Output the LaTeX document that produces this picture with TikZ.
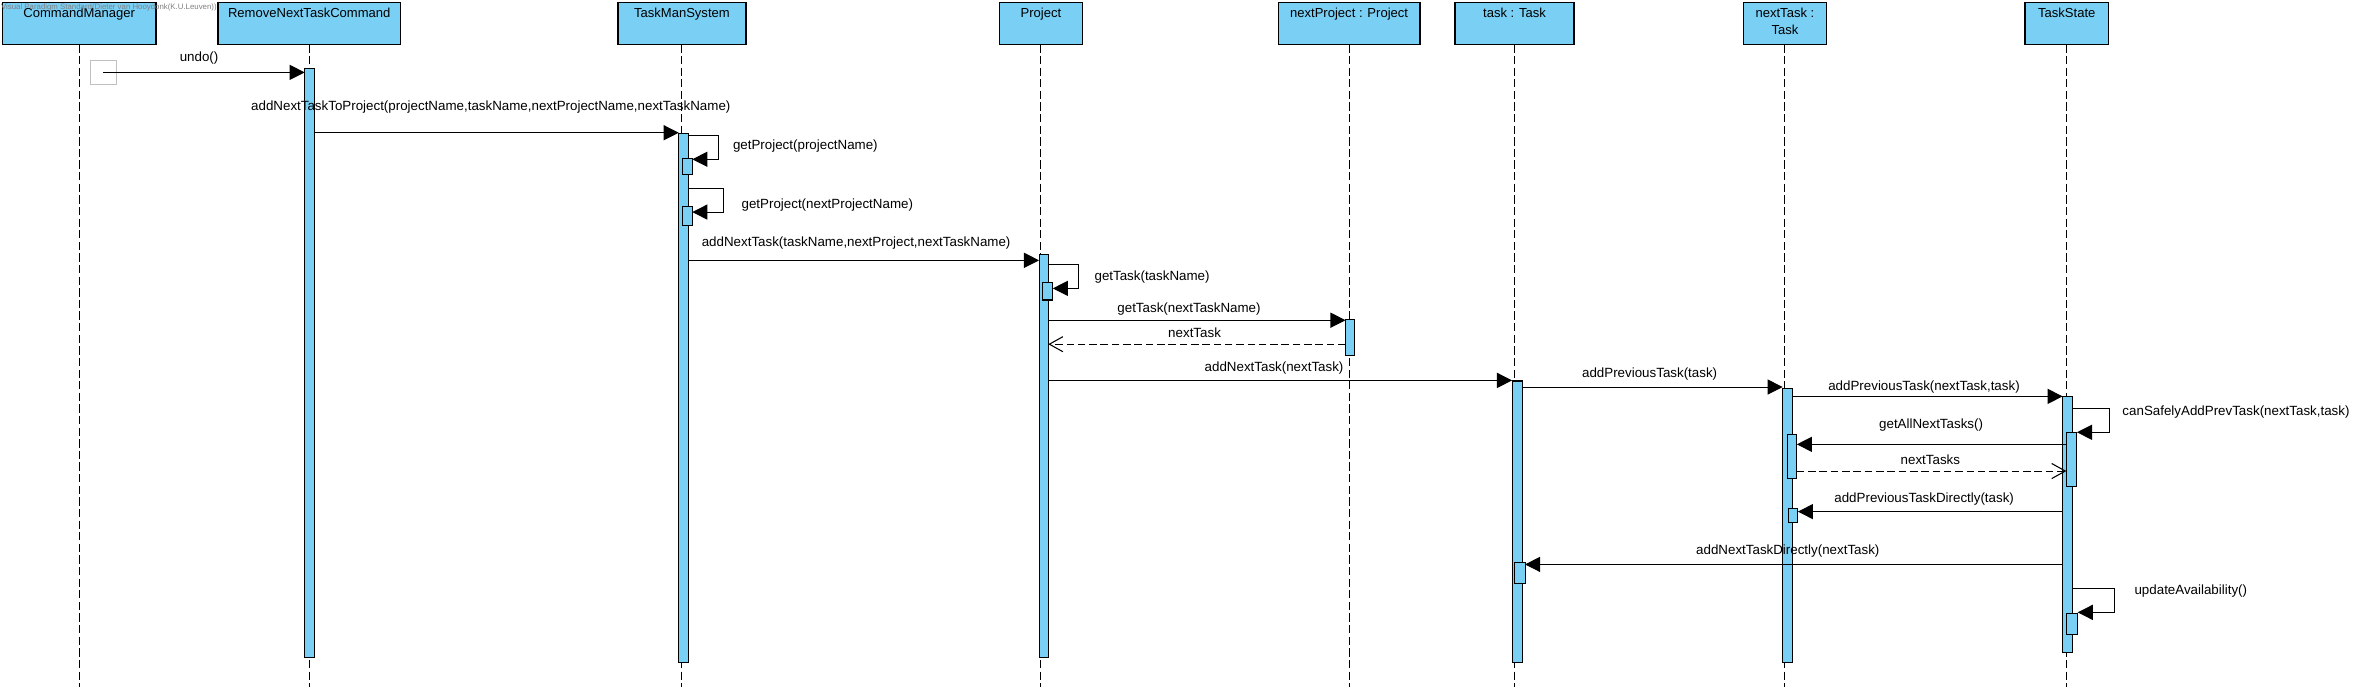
\documentclass[tikz,border=0pt]{standalone}
\usepackage{fontspec}
\setmainfont{Liberation Sans}
\usetikzlibrary{arrows.meta}
\definecolor{vpblue}{RGB}{122,207,245}
\definecolor{foundgrey}{RGB}{192,192,192}
\newcommand{\msgfont}{\fontsize{8.85}{10.6}\selectfont}
\begin{document}
\begin{tikzpicture}[x=1pt,y=-1pt,
  obj/.style={draw=black, line width=1pt, fill=vpblue, anchor=north west, inner sep=0pt, outer sep=0pt, minimum height=27.9pt},
  title/.style={font=\fontsize{8.65}{11.7}\selectfont, inner sep=0pt, anchor=base, align=center},
  bar/.style={draw=black, line width=0.7pt, fill=vpblue, anchor=north west, inner sep=0pt, outer sep=0pt},
  life/.style={line width=0.7pt, dash pattern=on 5.5pt off 2.2pt},
  msg/.style={line width=0.7pt, -{Triangle[length=10pt,width=10pt]}},
  ret/.style={line width=0.7pt, dash pattern=on 5pt off 2.5pt, -{Straight Barb[length=9pt,width=10pt,line width=0.7pt]}},
  lbl/.style={font=\msgfont, inner sep=0pt, anchor=mid},
  lblw/.style={lbl, anchor=mid west}
]
\useasboundingbox (0,0) rectangle (1568,458.1);

% object boxes
\node[obj, minimum width=102pt] (cm) at (1.5,1.5) {};
\node[obj, minimum width=120.7pt] (rc) at (144.7,1.5) {};
\node[obj, minimum width=84.8pt] (tms) at (409.7,1.5) {};
\node[obj, minimum width=55.1pt] (prj) at (662.6,1.5) {};
\node[obj, minimum width=93.9pt] (np) at (847.5,1.5) {};
\node[obj, minimum width=78.7pt] (tk) at (964.8,1.5) {};
\node[obj, minimum width=55.2pt] (nt) at (1155.8,1.5) {};
\node[obj, minimum width=55.3pt] (ts) at (1342.6,1.5) {};

\node[title] (cmT) at (cm.center |- 0,11.5) {CommandManager};
\node[title] (rcT) at (rc.center |- 0,11.5) {RemoveNextTaskCommand};
\node[title] (tmsT) at (tms.center |- 0,11.5) {TaskManSystem};
\node[title] (prjT) at (prj.center |- 0,11.5) {Project};
\node[title] (npT) at (np.center |- 0,11.5) {nextProject : Project};
\node[title] (tkT) at (tk.center |- 0,11.5) {task : Task};
\node[title] (ntT1) at (nt.center |- 0,11.5) {nextTask :};
\node[title] (ntT2) at (nt.center |- 0,23.2) {Task};
\node[title] (tsT) at (ts.center |- 0,11.5) {TaskState};

% lifelines
\draw[life] (cm.south) -- (cm.south |- 0,455.5);
\draw[life] (rc.south) -- (rc.south |- 0,455.5);
\draw[life] (tms.south) -- (tms.south |- 0,455.5);
\draw[life] (prj.south) -- (prj.south |- 0,455.5);
\draw[life] (np.south) -- (np.south |- 0,455.5);
\draw[life] (tk.south) -- (tk.south |- 0,455.5);
\draw[life] (nt.south) -- (nt.south |- 0,455.5);
\draw[life] (ts.south) -- (ts.south |- 0,455.5);

% activation bars
\node[bar, minimum width=6.5pt, minimum height=390.7pt] (rcA) at (202,45.3) {};
\node[bar, minimum width=6.7pt, minimum height=350.6pt] (tmsA) at (450,88.4) {};
\node[bar, minimum width=6.4pt, minimum height=10.6pt] (tmsB) at (452.6,105) {};
\node[bar, minimum width=6.4pt, minimum height=12.6pt] (tmsC) at (452.6,136.8) {};
\node[bar, minimum width=6.1pt, minimum height=267.4pt] (prjA) at (688.9,168.6) {};
\node[bar, minimum width=7pt, minimum height=11.7pt] (prjB) at (691,187.2) {};
\node[bar, minimum width=6.1pt, minimum height=23.7pt] (npA) at (892.1,211.7) {};
\node[bar, minimum width=6.8pt, minimum height=186.4pt] (tkA) at (1002.5,252.6) {};
\node[bar, minimum width=6.8pt, minimum height=14pt] (tkB) at (1004.3,372.8) {};
\node[bar, minimum width=6.4pt, minimum height=181.5pt] (ntA) at (1181.9,257.5) {};
\node[bar, minimum width=6.5pt, minimum height=28.9pt] (ntB) at (1184.8,288.2) {};
\node[bar, minimum width=6pt, minimum height=9pt] (ntC) at (1186,337.3) {};
\node[bar, minimum width=6.5pt, minimum height=169.3pt] (tsA) at (1367.5,263) {};
\node[bar, minimum width=7pt, minimum height=35.8pt] (tsB) at (1370,286.6) {};
\node[bar, minimum width=7.5pt, minimum height=13.9pt] (tsC) at (1370,406.6) {};

% found message start
\node[draw=foundgrey, line width=0.7pt, inner sep=0pt, minimum width=17pt, minimum height=16pt] (found) at (68.5,48) {};

% messages
\draw[msg] (found.center) -- (rcA.west |- found.center);
\draw[msg] (rcA.east |- 0,88) -- (tmsA.west |- 0,88);
\draw[msg] (tmsA.east |- 0,89.7) -| (476.3,105.6) -- (tmsB.east |- 0,105.6);
\draw[msg] (tmsA.east |- 0,125.1) -| (479.7,140.6) -- (tmsC.east |- 0,140.6);
\draw[msg] (tmsA.east |- 0,172.6) -- (prjA.west |- 0,172.6);
\draw[msg] (prjA.east |- 0,175.3) -| (715,191.2) -- (prjB.east |- 0,191.2);
\draw[msg] (prjA.east |- 0,212.3) -- (npA.west |- 0,212.3);
\draw[ret] (npA.west |- 0,228.2) -- (prjA.east |- 0,228.2);
\draw[msg] (prjA.east |- 0,252.2) -- (tkA.west |- 0,252.2);
\draw[msg] (tkA.east |- 0,256.6) -- (ntA.west |- 0,256.6);
\draw[msg] (ntA.east |- 0,262.8) -- (tsA.west |- 0,262.8);
\draw[msg] (tsA.east |- 0,270.7) -| (1398.3,286.6) -- (tsB.east |- 0,286.6);
\draw[msg] (tsB.west |- 0,294.6) -- (ntB.east |- 0,294.6);
\draw[ret] (ntB.east |- 0,312.3) -- (tsB.west |- 0,312.3);
\draw[msg] (tsA.west |- 0,339.2) -- (ntC.east |- 0,339.2);
\draw[msg] (tsA.west |- 0,374.2) -- (tkB.east |- 0,374.2);
\draw[msg] (tsA.east |- 0,390) -| (1401.8,406) -- (tsC.east |- 0,406);

% message labels
\node[lbl] (m1) at (132,38.4) {undo()};
\node[lbl] (m2) at (325.4,70.4) {addNextTaskToProject(projectName,taskName,nextProjectName,nextTaskName)};
\node[lblw] (m3) at (485.8,96.3) {getProject(projectName)};
\node[lblw] (m4) at (491.5,135.6) {getProject(nextProjectName)};
\node[lbl] (m5) at (567.6,161) {addNextTask(taskName,nextProject,nextTaskName)};
\node[lblw] (m6) at (725.5,183.6) {getTask(taskName)};
\node[lbl] (m7) at (788.3,204.8) {getTask(nextTaskName)};
\node[lbl] (m8) at (792,221.4) {nextTask};
\node[lbl] (m9) at (844.7,243.5) {addNextTask(nextTask)};
\node[lbl] (m10) at (1093.7,247.9) {addPreviousTask(task)};
\node[lbl] (m11) at (1275.6,256.5) {addPreviousTask(nextTask,task)};
\node[lblw] (m12) at (1407,272.6) {canSafelyAddPrevTask(nextTask,task)};
\node[lbl] (m13) at (1280.3,281.5) {getAllNextTasks()};
\node[lbl] (m14) at (1279.8,305.3) {nextTasks};
\node[lbl] (m15) at (1275.7,330.8) {addPreviousTaskDirectly(task)};
\node[lbl] (m16) at (1185.3,365.2) {addNextTaskDirectly(nextTask)};
\node[lblw] (m17) at (1415,391.8) {updateAvailability()};

% watermark
\node[anchor=west, inner sep=0pt, font=\fontsize{5.2}{6}\selectfont, text=gray] (wm) at (0.5,4.8) {Visual Paradigm Standard(Dieter van Hooydonk(K.U.Leuven))};
\end{tikzpicture}
\end{document}
